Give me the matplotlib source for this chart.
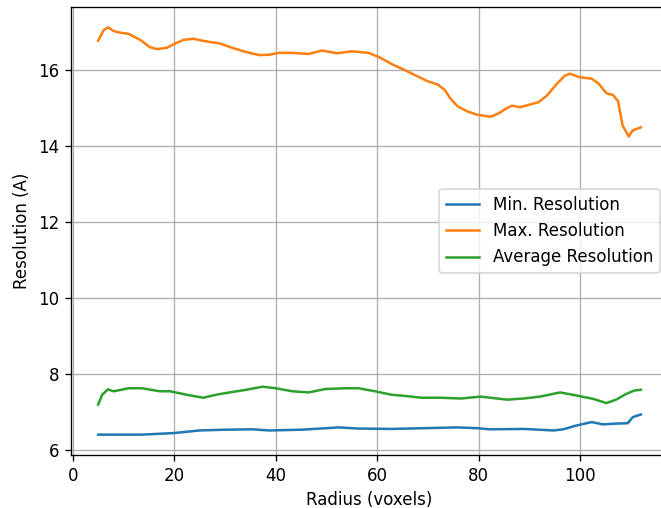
import matplotlib
matplotlib.use("Agg")
import matplotlib.pyplot as plt

max_x = [5, 6.1, 7.0, 8.1, 9.4, 11.0, 13.3, 15.2, 16.6, 18.5, 20.1, 21.8, 23.7, 26.3, 28.9,
         31.5, 34.2, 36.8, 38.7, 40.7, 43.3, 46.5, 49.1, 52.1, 55.0, 58.3, 60.5, 62.8, 65.4,
         68.0, 70.0, 71.9, 73.3, 74.5, 75.9, 77.8, 79.8, 82.4, 84.0, 85.6, 86.6, 88.2, 90.1,
         91.8, 93.5, 95.4, 97.0, 98.0, 99.9, 102.3, 103.6, 105.2, 106.5, 107.5, 108.4, 109.6,
         110.4, 112]
max_y = [16.76, 17.04, 17.11, 17.01, 16.97, 16.94, 16.78, 16.59, 16.54, 16.57, 16.68, 16.78,
         16.81, 16.74, 16.69, 16.57, 16.46, 16.38, 16.39, 16.44, 16.44, 16.41, 16.50, 16.43,
         16.48, 16.44, 16.32, 16.15, 15.99, 15.82, 15.69, 15.61, 15.47, 15.23, 15.03, 14.90,
         14.81, 14.76, 14.85, 14.99, 15.05, 15.01, 15.08, 15.14, 15.32, 15.62, 15.84, 15.89,
         15.80, 15.76, 15.64, 15.38, 15.33, 15.17, 14.53, 14.24, 14.40, 14.48]

avg_x = [5, 5.8, 6.9, 8.1, 11.0, 13.6, 17.2, 19.2, 22.4, 25.7, 28.3, 30.9, 34.2, 37.4, 40.0,
         43.3, 46.5, 49.8, 53.7, 56.3, 59.6, 62.8, 66.1, 68.7, 72.6, 76.5, 80.4, 85.6, 88.9,
         92.1, 96.1, 99.3, 102.6, 105.2, 107.1, 109.1, 110.7, 112]
avg_y = [7.19, 7.45, 7.59, 7.54, 7.62, 7.62, 7.54, 7.54, 7.45, 7.37, 7.45, 7.51, 7.58, 7.66,
         7.62, 7.54, 7.51, 7.60, 7.62, 7.62, 7.54, 7.45, 7.41, 7.37, 7.37, 7.35, 7.40, 7.32,
         7.35, 7.40, 7.51, 7.43, 7.34, 7.23, 7.32, 7.47, 7.56, 7.58]

min_x = [5, 13.6, 19.8, 25.0, 30.2, 35.4, 38.7, 45.2, 52.4, 56.3, 62.8, 69.3, 75.8, 79.7,
         82.3, 88.9, 94.8, 96.7, 99.3, 102.3, 104.5, 107.1, 109.4, 110.4, 112]
min_y = [6.40, 6.40, 6.44, 6.51, 6.53, 6.54, 6.51, 6.53, 6.59, 6.56, 6.55, 6.57, 6.59, 6.57,
         6.54, 6.55, 6.51, 6.54, 6.64, 6.73, 6.67, 6.69, 6.70, 6.86, 6.93]

DPI = 120
fig = plt.figure(figsize=(661 / DPI, 508 / DPI), dpi=DPI)
ax = fig.add_axes([71 / 661, 53 / 508, 597 / 661, 448 / 508])
ax.plot(min_x, min_y, label="Min. Resolution")
ax.plot(max_x, max_y, label="Max. Resolution")
ax.plot(avg_x, avg_y, label="Average Resolution")
ax.set_xlabel("Radius (voxels)")
ax.set_ylabel("Resolution (A)")
ax.grid(True)
ax.legend(loc="center right")
fig.savefig("out.png", dpi=DPI)
